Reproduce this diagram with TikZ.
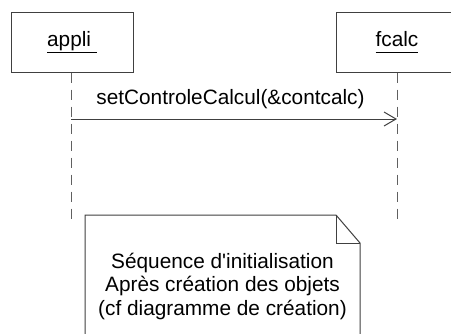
\documentclass[tikz,border=0pt]{standalone}
\usepackage{fontspec}
\setmainfont{Liberation Sans}
\usetikzlibrary{arrows.meta}
\newcommand{\objname}[1]{\underline{#1\vphantom{p}}}
\definecolor{linegray}{HTML}{404040}
\definecolor{lifegray}{HTML}{606060}
\tikzset{
  objbox/.style={draw=linegray, line width=1pt, minimum width=122pt, minimum height=60pt, inner sep=0pt, font=\fontsize{20.8}{23.5}\selectfont},
  lifeline/.style={draw=lifegray, line width=1pt, dash pattern=on 10pt off 7pt},
  msgline/.style={draw=linegray, line width=1pt, -{Straight Barb[length=12pt,width=14pt,line width=1pt]}},
  txt/.style={font=\fontsize{20.8}{23.5}\selectfont, inner sep=0pt},
  noteshape/.style={draw=linegray, line width=1pt, fill=white}
}
\begin{document}
\begin{tikzpicture}[x=1pt,y=-1pt]
\clip (0,0) rectangle (451,333);
\fill[white] (0,0) rectangle (451,333);
\node[objbox] (appli) at (72,42) {\objname{appli\ }};
\node[objbox] (fcalc) at (397,42) {\objname{fcalc}};
\coordinate (appliend) at (71,224);
\coordinate (fcalcend) at (397,224);
\draw[lifeline] (appli.south -| appliend) -- (appliend);
\draw[lifeline] (fcalc.south) -- (fcalcend);
\coordinate (msgstart) at (71,119);
\coordinate (msgend) at (397,119);
\draw[msgline] (msgstart) -- (msgend);
\node[txt, anchor=base] (msglabel) at (230.5,104) {setControleCalcul(\&contcalc)};
\draw[noteshape] (85,215) -- (336,215) -- (360,243) -- (360,345) -- (85,345) -- cycle;
\draw[linegray, line width=1pt] (336,215) -- (336,243) -- (360,243);
\node[txt, align=center, anchor=base] (note) at (222.5,315) {Séquence d\textquotesingle initialisation\\Après création des objets\\(cf diagramme de création)};
\end{tikzpicture}
\end{document}
